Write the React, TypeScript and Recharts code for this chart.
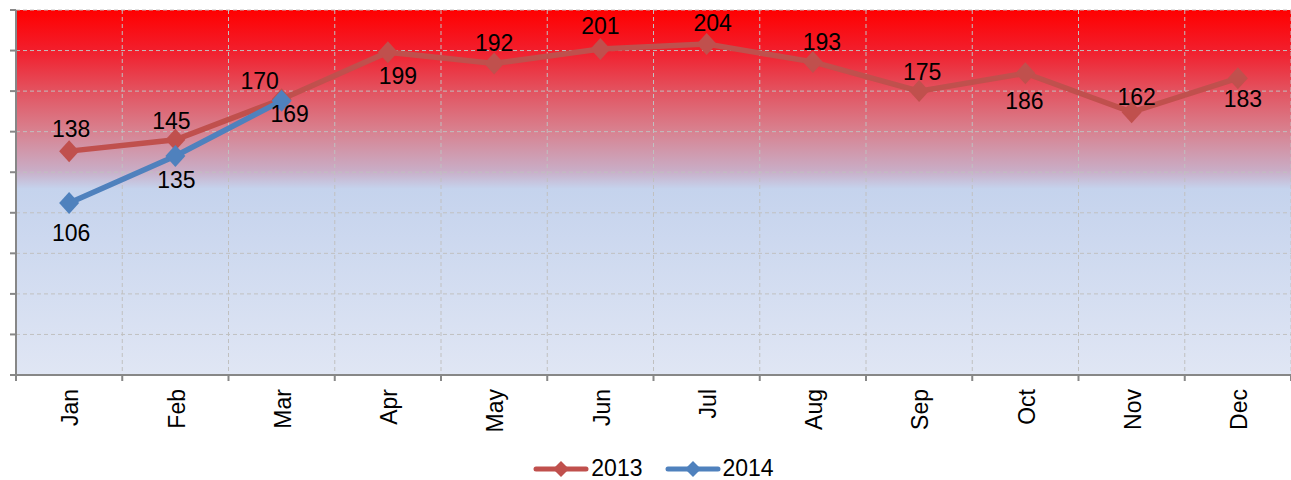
import React from 'react';
import { LineChart, Line, XAxis, YAxis, CartesianGrid, Legend } from 'recharts';

const MONTHS = ['Jan', 'Feb', 'Mar', 'Apr', 'May', 'Jun', 'Jul', 'Aug', 'Sep', 'Oct', 'Nov', 'Dec'];
const SERIES_2013 = [138, 145, 170, 199, 192, 201, 204, 193, 175, 186, 162, 183];
const SERIES_2014: (number | null)[] = [106, 135, 169, null, null, null, null, null, null, null, null, null];
const Y_TICKS = [0, 25, 50, 75, 100, 125, 150, 175, 200, 225];

// label placement (style): [dx, dy] relative to the point
const LABEL_OFFSETS_2013: [number, number][] = [
  [2, -22], [-4, -19], [-22, -19], [10, 24], [0, -21], [0, -23],
  [6, -21], [9, -20], [3, -19], [-1, 27], [5, -15], [5, 21],
];
const LABEL_OFFSETS_2014: [number, number][] = [
  [2, 30], [1, 24], [8, 13],
];

const C2013 = '#C0504D';
const C2014 = '#4F81BD';
const FONT = '"Liberation Sans", Arial, sans-serif';
const AXIS = '#878787';
const TICK_SIZE = 6;
const TICK_MARGIN = 8;

const data = MONTHS.map((m, i) => ({ month: m, y2013: SERIES_2013[i], y2014: SERIES_2014[i] }));

const diamond = (color: string) => (props: any) => {
  const { cx, cy, index, value } = props;
  if (value == null || cx == null || cy == null) return <g key={`d${index}`} />;
  const r = 11;
  return (
    <polygon
      key={`d${index}`}
      points={`${cx},${cy - r} ${cx + r - 1},${cy} ${cx},${cy + r} ${cx - r + 1},${cy}`}
      fill={color}
    />
  );
};

const makeLabel = (offsets: [number, number][]) => (props: any) => {
  const { x, y, value, index } = props;
  if (value == null) return null;
  const [dx, dy] = offsets[index] || [0, -20];
  return (
    <text
      key={`l${index}`}
      x={x + dx}
      y={y + dy}
      dy="0.36em"
      textAnchor="middle"
      fontFamily={FONT}
      fontSize={23}
      fill="#000"
    >
      {value}
    </text>
  );
};

const EmptyTick = () => <g />;

// Month label plus tick marks at the category boundaries
const MonthTick = (props: any) => {
  const { x, y, payload, index } = props;
  const half = payload && payload.offset ? payload.offset : 0;
  const axisY = y - TICK_SIZE - TICK_MARGIN;
  const isLast = index === MONTHS.length - 1;
  return (
    <g>
      <line x1={x - half} y1={axisY} x2={x - half} y2={axisY + TICK_SIZE} stroke={AXIS} strokeWidth={2} />
      {isLast && (
        <line x1={x + half} y1={axisY} x2={x + half} y2={axisY + TICK_SIZE} stroke={AXIS} strokeWidth={2} />
      )}
      <text
        x={x}
        y={y}
        transform={`rotate(-90, ${x}, ${y})`}
        textAnchor="end"
        dy="0.4em"
        fontFamily={FONT}
        fontSize={23}
        fill="#000"
      >
        {payload.value}
      </text>
    </g>
  );
};

const LEGEND_ITEMS = [
  { name: '2013', color: C2013 },
  { name: '2014', color: C2014 },
];

const LegendContent = () => (
  <div
    style={{
      display: 'flex',
      justifyContent: 'center',
      alignItems: 'center',
      height: 23,
      fontFamily: FONT,
      fontSize: 23,
      paddingLeft: 16,
      paddingTop: 7,
    }}
  >
    {LEGEND_ITEMS.map((it, i) => (
      <div key={it.name} style={{ display: 'flex', alignItems: 'center', marginLeft: i ? 22 : 0 }}>
        <svg width={56} height={20} style={{ display: 'block' }}>
          <line x1={3} y1={10} x2={53} y2={10} stroke={it.color} strokeWidth={5} strokeLinecap="round" />
          <polygon points="28,2 36,10 28,18 20,10" fill={it.color} />
        </svg>
        <span style={{ marginLeft: 2, lineHeight: '23px' }}>{it.name}</span>
      </div>
    ))}
  </div>
);

const vGen = ({ offset }: any) =>
  [...MONTHS.map((_, i) => i), MONTHS.length].map((t) => offset.left + (t * offset.width) / MONTHS.length);

const hGen = ({ offset }: any) => {
  const max = Y_TICKS[Y_TICKS.length - 1];
  return Y_TICKS.map((t) => offset.top + offset.height * (1 - t / max));
};

export default function App() {
  return (
    <div style={{ position: 'absolute', left: 0, top: 0, width: 1291, height: 480 }}>
      <LineChart width={1291} height={480} data={data} margin={{ top: 10, right: 0, left: 0, bottom: 0 }}>
        <defs>
          <linearGradient id="plotBg" x1="0" y1="0" x2="0" y2="1">
            <stop offset="0" stopColor="#FF0000" />
            <stop offset="0.11" stopColor="#F21E2C" />
            <stop offset="0.22" stopColor="#E3525F" />
            <stop offset="0.33" stopColor="#D8818F" />
            <stop offset="0.44" stopColor="#C9ADC6" />
            <stop offset="0.49" stopColor="#C5D3ED" />
            <stop offset="1" stopColor="#E0E6F4" />
          </linearGradient>
        </defs>
        <CartesianGrid
          xAxisId="m"
          fill="url(#plotBg)"
          fillOpacity={1}
          stroke="#C0C0C0"
          strokeDasharray="4 3"
          verticalCoordinatesGenerator={vGen}
          horizontalCoordinatesGenerator={hGen}
        />
        <XAxis
          xAxisId="m"
          dataKey="month"
          scale="band"
          axisLine={{ stroke: AXIS, strokeWidth: 2 }}
          tickLine={false}
          tickSize={TICK_SIZE}
          tickMargin={TICK_MARGIN}
          height={75}
          interval={0}
          tick={<MonthTick />}
        />
        <YAxis
          domain={[0, 225]}
          ticks={Y_TICKS}
          width={16}
          tick={<EmptyTick />}
          tickSize={TICK_SIZE}
          axisLine={{ stroke: AXIS, strokeWidth: 2 }}
          tickLine={{ stroke: AXIS, strokeWidth: 2 }}
          allowDataOverflow
        />
        <Legend verticalAlign="bottom" height={30} content={<LegendContent />} />
        <Line
          xAxisId="m"
          dataKey="y2013"
          name="2013"
          stroke={C2013}
          strokeWidth={5.5}
          dot={diamond(C2013)}
          activeDot={false}
          label={makeLabel(LABEL_OFFSETS_2013)}
          isAnimationActive={false}
        />
        <Line
          xAxisId="m"
          dataKey="y2014"
          name="2014"
          stroke={C2014}
          strokeWidth={5.5}
          dot={diamond(C2014)}
          activeDot={false}
          label={makeLabel(LABEL_OFFSETS_2014)}
          isAnimationActive={false}
        />
      </LineChart>
    </div>
  );
}
